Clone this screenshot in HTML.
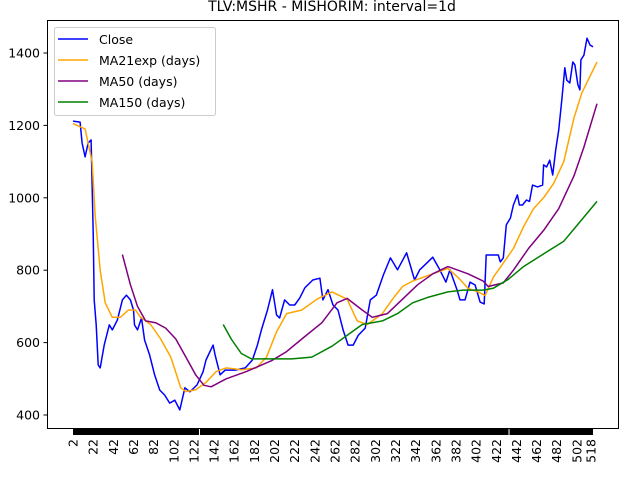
<!DOCTYPE html>
<html><head><meta charset="utf-8"><style>
html,body{margin:0;padding:0;background:#fff;}
svg{display:block;font-family:"DejaVu Sans","Liberation Sans",sans-serif;}
</style></head><body>
<svg id="chart" width="640" height="480" viewBox="0 0 640 480">
<text x="332" y="11" font-size="14" text-anchor="middle">TLV:MSHR - MISHORIM: interval=1d</text>
<rect x="47.5" y="20.5" width="571" height="408" fill="none" stroke="#000" stroke-width="1"/>
<g id="yaxis"></g>
<g id="xaxis"></g>
<g id="series"></g>
<g>
<rect x="54.5" y="27.5" width="161" height="88" rx="2" fill="#fff" fill-opacity="0.8" stroke="#ccc"/>
<line x1="58" y1="39" x2="88" y2="39" stroke="#0000ff" stroke-width="1.5"/>
<text x="99" y="44" font-size="12.5">Close</text>
<line x1="58" y1="60" x2="88" y2="60" stroke="orange" stroke-width="1.5"/>
<text x="99" y="65" font-size="12.5">MA21exp (days)</text>
<line x1="58" y1="81" x2="88" y2="81" stroke="purple" stroke-width="1.5"/>
<text x="99" y="86" font-size="12.5">MA50 (days)</text>
<line x1="58" y1="102" x2="88" y2="102" stroke="green" stroke-width="1.5"/>
<text x="99" y="107" font-size="12.5">MA150 (days)</text>
</g>
</svg>
<script>
const yTicks=[400,600,800,1000,1200,1400];
const xTickLabels=[2,22,42,62,82,102,122,142,162,182,202,222,242,262,282,302,322,342,362,382,402,422,442,462,482,502,518];
const closeIdx=[2,9,11,14,17,20,22,23,25,27,29,33,38,41,46,51,55,59,62,63,66,70,73,78,83,88,93,98,103,108,113,118,125,131,134,141,143,148,153,163,173,180,185,189,195,200,204,207,212,217,222,227,232,240,247,250,255,260,265,270,275,280,285,292,297,303,310,317,324,333,341,346,351,359,366,372,376,383,386,391,396,401,406,410,412,424,426,429,432,436,439,443,445,448,452,455,458,463,468,469,472,475,478,481,484,487,490,492,495,498,500,503,505,506,509,512,515,518];
const closeVal=[1212,1209,1151,1113,1151,1160,903,718,649,538,530,593,649,635,662,718,731,718,690,649,635,668,607,566,511,469,455,433,441,414,475,464,483,519,552,593,566,511,524,524,530,552,593,635,690,746,676,668,718,704,704,723,751,773,778,718,746,704,690,635,593,593,620,640,718,731,787,834,801,848,773,801,814,836,801,767,801,746,718,718,767,759,712,707,842,842,823,834,925,944,980,1008,980,980,994,990,1035,1030,1035,1091,1085,1104,1063,1132,1187,1270,1359,1325,1317,1375,1367,1312,1298,1381,1394,1441,1422,1417];
const maIdx=[2,14,21,24,29,34,41,49,57,64,69,79,89,99,109,114,124,134,144,154,169,184,194,204,214,229,244,259,274,284,294,309,319,329,339,349,359,374,384,394,404,411,419,429,439,449,459,469,479,489,499,507,514,522];
const ma21Val=[1205,1190,1100,950,800,710,670,670,690,690,670,650,610,560,475,465,470,490,520,530,525,530,560,630,680,690,720,740,720,660,650,680,720,755,770,780,790,805,780,750,740,730,780,820,860,920,970,1000,1040,1100,1220,1290,1330,1375];
const ma50Idx=[51,59,66,74,84,94,104,114,124,132,139,154,174,199,214,229,249,264,274,289,299,314,329,344,359,374,384,394,409,414,429,439,454,469,484,499,509,522];
const ma50Val=[843,760,700,660,655,640,610,560,510,482,478,500,520,550,575,610,655,710,722,690,670,680,720,760,790,810,800,790,770,755,765,800,860,910,970,1060,1140,1260];
const ma150Idx=[151,159,169,179,199,219,239,259,274,289,309,324,339,354,374,389,409,419,434,449,469,489,504,522];
const ma150Val=[650,610,570,555,555,555,560,590,620,650,660,680,710,725,740,745,745,750,775,810,845,880,930,990];

const NS='http://www.w3.org/2000/svg';
function xs(i){return 73+(i-2)*(520/516);}
function ys(v){return 53+(1400-v)*0.362;}
function mk(tag,attrs,parent){const e=document.createElementNS(NS,tag);for(const k in attrs)e.setAttribute(k,attrs[k]);parent.appendChild(e);return e;}
const yg=document.getElementById('yaxis');
yTicks.forEach(v=>{
  const y=ys(v);
  const t=mk('line',{x1:43.5,x2:47.5,y1:y,y2:y,stroke:'#000'},yg);
  
  
  const l=mk('text',{x:40,y:y+4.5,'font-size':12.5,'text-anchor':'end'},yg);
  l.textContent=v;
  
  
});
const xg=document.getElementById('xaxis');
const bar=mk('rect',{x:xs(2),y:429,width:xs(518)-xs(2),height:6,fill:'#000'},xg);


[199,508.5].forEach(x=>{const g=mk('rect',{x:x,y:429,width:1,height:6,fill:'#fff'},xg);

});
xTickLabels.forEach((v,k)=>{
  let x=xs(v);
  if(v===518)x-=2;
  const l=mk('text',{x:0,y:0,'font-size':12.5,'text-anchor':'end',transform:`translate(${x+4.5},439) rotate(-90)`},xg);
  l.textContent=v;
  
  
});
const sg=document.getElementById('series');
function line(idx,vals,color,name){
  const n=Math.min(idx.length,vals.length);
  let d='';
  for(let k=0;k<n;k++)d+=(k?'L':'M')+xs(idx[k]).toFixed(1)+','+ys(vals[k]).toFixed(1)+' ';
  const p=mk('path',{d:d,fill:'none',stroke:color,'stroke-width':1.5,'stroke-linejoin':'round'},sg);
  
  
}
line(closeIdx,closeVal,'#0000ff','close-line');
line(maIdx,ma21Val,'orange','ma21exp-line');
line(ma50Idx,ma50Val,'purple','ma50-line');
line(ma150Idx,ma150Val,'green','ma150-line');
</script>
</body></html>
